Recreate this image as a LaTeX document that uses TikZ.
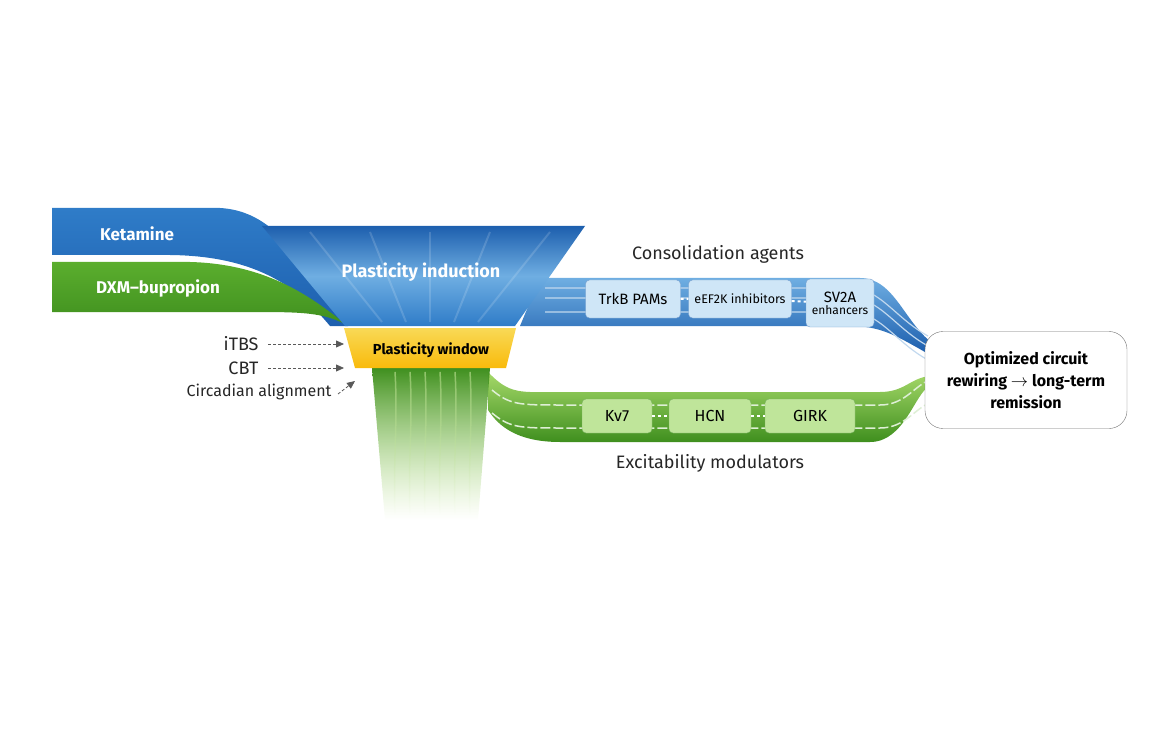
\documentclass[tikz,border=0pt]{standalone}
\usepackage{fontspec}
\setmainfont{Fira Sans}
\usetikzlibrary{arrows.meta,fadings}
\definecolor{bl}{HTML}{2F7CC8}
\definecolor{bld}{HTML}{1D5FAE}
\definecolor{bll}{HTML}{6FAEE2}
\definecolor{gr}{HTML}{5BAE2E}
\definecolor{grd}{HTML}{3F8F1E}
\definecolor{grl}{HTML}{A6D96A}
\definecolor{yl}{HTML}{F7C90E}
\definecolor{boxb}{HTML}{CFE6F7}
\definecolor{boxg}{HTML}{BFE59A}
\tikzfading[name=fadebottom, top color=transparent!0, bottom color=transparent!100]
\tikzset{
 lab/.style={font=\fontsize{16}{18}\selectfont, text=black!85},
 wlab/.style={font=\bfseries\fontsize{17}{19}\selectfont, text=white},
 bbox/.style={draw=bld!60, fill=boxb, rounded corners=4pt, minimum height=38pt, font=\fontsize{15}{16}\selectfont, inner sep=2pt},
 gbox/.style={draw=grd!70, fill=boxg, rounded corners=4pt, minimum height=34pt, font=\fontsize{16}{17}\selectfont},
 darr/.style={densely dashed, draw=black!65, thick, -{Triangle[length=8pt,width=7pt]}}
}
\begin{document}
\begin{tikzpicture}[x=1pt,y=-1pt]
\useasboundingbox (0,0) rectangle (1160,754);
% consolidation band
\shade[top color=bll, bottom color=bld] (540,278) -- (860,278) .. controls (895,278) and (905,325) .. (935,345) -- (925,352) .. controls (895,335) and (880,326) .. (850,326) -- (520,326) -- cycle;
\foreach \d in {288,298,312} \draw[white!70!bl, line width=1.2pt] (545,\d) -- (850,\d) .. controls (880,\d) and (895,\d+30) .. (928,\d+48);
% excitability band
\shade[top color=grl, bottom color=grd] (488,372) .. controls (510,395) and (520,392) .. (560,392) -- (880,392) .. controls (905,392) and (910,378) .. (930,376) -- (930,386) .. controls (915,392) and (905,442) .. (870,442) -- (560,442) .. controls (510,442) and (495,420) .. (488,410) -- cycle;
\foreach \d in {405,428} \draw[white!80!gr, line width=1.5pt, dash pattern=on 10pt off 3pt] (492,\d-15) .. controls (510,\d) and (520,\d) .. (560,\d) -- (880,\d) .. controls (905,\d) and (915,\d-20) .. (930,\d-25);
% stem
\shade[top color=grd, bottom color=grl, path fading=fadebottom] (372,368) -- (490,368) -- (478,520) -- (385,520) -- cycle;
\foreach \x in {395,410,425,440,455,470} \draw[grl!70!white, opacity=0.6, line width=1.5pt, path fading=fadebottom] (\x,372) .. controls (\x+3,420) and (\x-2,460) .. (\x,515);
% ketamine band
\shade[top color=bl, bottom color=bld] (52,208) -- (220,208) .. controls (290,212) and (310,290) .. (348,326) -- (330,326) .. controls (300,290) and (260,256) .. (170,255) -- (52,255) -- cycle;
% DXM band
\shade[top color=gr, bottom color=grd] (52,262) -- (190,262) .. controls (270,264) and (315,300) .. (348,326) .. controls (325,312) and (300,312) .. (250,312) -- (52,312) -- cycle;
% funnel
\shade[top color=bld, bottom color=bl, middle color=bll] (262,226) -- (585,226) -- (515,326) -- (345,326) -- cycle;
\foreach \x in {-60,-30,0,30,60} \draw[white, opacity=0.15, line width=2pt] (430+\x*2,232) -- (430+\x*0.8,322);
% window
\shade[top color=yl!70!white, bottom color=yl!80!orange] (344,328) -- (516,328) -- (506,368) -- (355,368) -- cycle;
% texts
\node[wlab] (ket) at (137,234) {Ketamine};
\node[wlab] (dxm) at (158,288) {DXM–bupropion};
\node[wlab, font=\bfseries\fontsize{18}{20}\selectfont] (ind) at (421,272) {Plasticity induction};
\node[font=\bfseries\fontsize{14.5}{16}\selectfont] (win) at (431,350) {Plasticity window};
\node[lab, font=\fontsize{18}{20}\selectfont] (cons) at (718,254) {Consolidation agents};
\node[lab, font=\fontsize{18}{20}\selectfont] (exc) at (710,463) {Excitability modulators};
\node[bbox, minimum width=95pt] (trkb) at (633,299) {TrkB PAMs};
\node[bbox, minimum width=103pt, font=\fontsize{12.5}{14}\selectfont] (eef) at (740,299) {eEF2K inhibitors};
\node[bbox, minimum width=68pt, minimum height=48pt, align=center, font=\fontsize{15}{13}\selectfont] (sv2a) at (840,303) {SV2A\\[-1pt]{\fontsize{12}{13}\selectfont enhancers}};
\draw[white, line width=2pt, dashed] (trkb) -- (eef) -- (sv2a);
\node[gbox, minimum width=70pt] (kv7) at (617,416) {Kv7};
\node[gbox, minimum width=82pt] (hcn) at (710,416) {HCN};
\node[gbox, minimum width=90pt] (girk) at (810,416) {GIRK};
\draw[white, line width=2pt, dashed] (kv7) -- (hcn) -- (girk);
\node[draw=black!55, fill=white, rounded corners=18pt, minimum width=202pt, minimum height=97pt, align=center, font=\bfseries\fontsize{16}{22}\selectfont] (out) at (1026,380) {Optimized circuit\\rewiring $\rightarrow$ long-term\\remission};
\node[lab, anchor=east, font=\fontsize{18}{20}\selectfont] (itbs) at (262,344) {iTBS};
\node[lab, anchor=east, font=\fontsize{18}{20}\selectfont] (cbt) at (262,368) {CBT};
\node[lab, anchor=east] (circ) at (335,392) {Circadian alignment};
\coordinate (a1) at (344,344);
\coordinate (a2) at (344,368);
\coordinate (a3) at (355,381);
\draw[darr] ([xshift=6pt]itbs.east) -- (a1);
\draw[darr] ([xshift=6pt]cbt.east) -- (a2);
\draw[darr] ([xshift=3pt,yshift=-2pt]circ.east) -- (a3);
\end{tikzpicture}
\end{document}
